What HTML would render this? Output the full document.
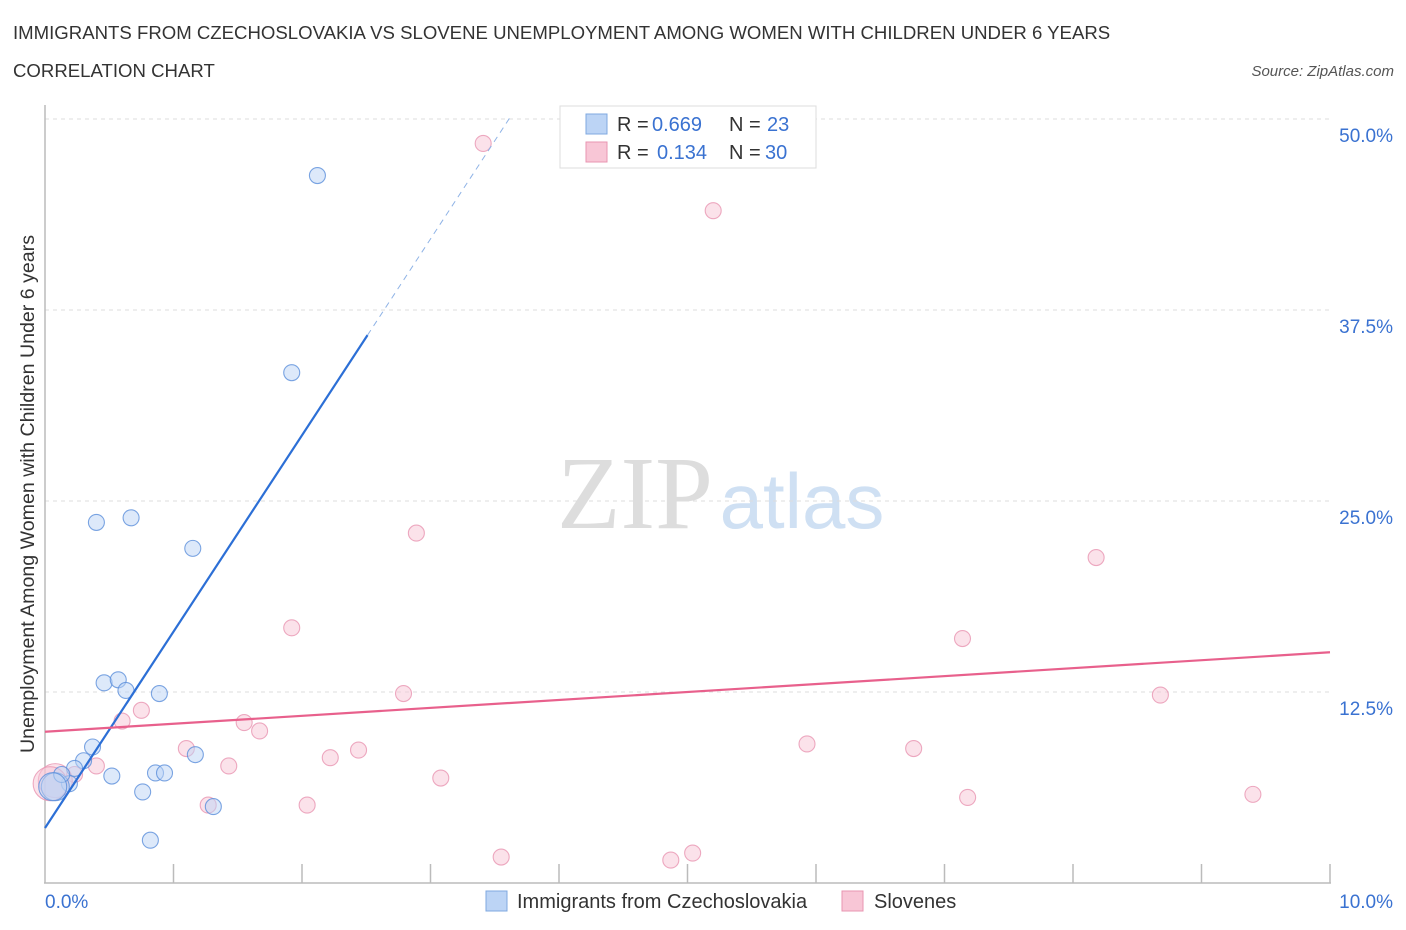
<!DOCTYPE html>
<html><head><meta charset="utf-8"><style>
body{margin:0;background:#fff;font-family:"Liberation Sans",sans-serif;}
svg{display:block}
</style></head><body>
<svg id="c" width="1406" height="930" xmlns="http://www.w3.org/2000/svg">
<text x="13" y="39" font-size="18.6" fill="#333">IMMIGRANTS FROM CZECHOSLOVAKIA VS SLOVENE UNEMPLOYMENT AMONG WOMEN WITH CHILDREN UNDER 6 YEARS</text>
<text x="13" y="77" font-size="18.6" fill="#333">CORRELATION CHART</text>
<text x="1394" y="76" font-size="15" fill="#555" font-style="italic" text-anchor="end">Source: ZipAtlas.com</text>
<text x="635" y="528" font-size="104" fill="#ddd" font-family="Liberation Serif" text-anchor="middle">ZIP</text>
<text x="802" y="528" font-size="78" fill="#cfe0f3" text-anchor="middle">atlas</text>
<g id="grid"></g>
<g id="axes"></g>
<g id="marks"></g>
<text transform="translate(34,494) rotate(-90)" font-size="19.6" fill="#333" text-anchor="middle">Unemployment Among Women with Children Under 6 years</text>
<text x="45" y="908" font-size="19" fill="#3a72d1">0.0%</text>
<text x="1393" y="908" font-size="19" fill="#3a72d1" text-anchor="end">10.0%</text>
<g>
<rect x="560" y="106" width="256" height="62" fill="#fff" stroke="#ddd"/>
<rect x="586" y="114" width="21" height="20" fill="#bcd4f5" stroke="#7fa8e0"/>
<rect x="586" y="142" width="21" height="20" fill="#f8c6d6" stroke="#e895b1"/>
<text x="617" y="131" font-size="20" fill="#333">R =</text>
<text x="652" y="131" font-size="20" fill="#3a72d1">0.669</text>
<text x="729" y="131" font-size="20" fill="#333">N =</text>
<text x="767" y="131" font-size="20" fill="#3a72d1">23</text>
<text x="617" y="159" font-size="20" fill="#333">R =</text>
<text x="657" y="159" font-size="20" fill="#3a72d1">0.134</text>
<text x="729" y="159" font-size="20" fill="#333">N =</text>
<text x="765" y="159" font-size="20" fill="#3a72d1">30</text>
</g>
<g>
<rect x="486" y="891" width="21" height="20" fill="#bcd4f5" stroke="#7fa8e0"/>
<text x="517" y="908" font-size="20" fill="#333">Immigrants from Czechoslovakia</text>
<rect x="842" y="891" width="21" height="20" fill="#f8c6d6" stroke="#e895b1"/>
<text x="874" y="908" font-size="20" fill="#333">Slovenes</text>
</g>
</svg>
<script>
const yTicks=[12.5,25,37.5,50];
const yTickLabels=["12.5%","25.0%","37.5%","50.0%"];
const czechX=[2.12,1.92,0.40,0.67,1.15,0.46,0.57,0.63,0.89,0.37,0.30,0.23,0.86,0.93,1.17,0.52,0.76,0.19,1.31,0.82,0.08,0.13,0.06];
const czechY=[46.3,33.4,23.6,23.9,21.9,13.1,13.3,12.6,12.4,8.9,8.0,7.5,7.2,7.2,8.4,7.0,5.96,6.5,5.0,2.8,6.3,7.1,6.3];
const sloveneX=[3.41,5.20,2.89,8.18,1.92,7.14,2.79,8.68,0.75,0.60,1.55,1.67,5.93,1.10,2.44,6.76,2.22,0.40,1.43,3.08,1.27,2.04,7.18,9.40,3.55,5.04,4.87,0.23,0.08,0.04];
const sloveneY=[48.4,44.0,22.9,21.3,16.7,16.0,12.4,12.3,11.3,10.6,10.5,9.95,9.1,8.8,8.7,8.8,8.2,7.66,7.66,6.87,5.1,5.1,5.6,5.8,1.7,1.96,1.5,7.1,6.7,6.5];
const czechTrend=[3.6,12.85];
const sloveneTrend=[9.9,0.52];
const NS="http://www.w3.org/2000/svg";
const X=v=>45+v*128.5, Y=v=>883-v*15.28;
function mk(t,a,p){const e=document.createElementNS(NS,t);for(const k in a)e.setAttribute(k,a[k]);p.appendChild(e);return e;}
const grid=document.getElementById('grid'),axes=document.getElementById('axes'),marks=document.getElementById('marks');
yTicks.forEach((t,i)=>{
 const l=mk('line',{x1:45,x2:1330,y1:Y(t),y2:Y(t),stroke:'#ddd','stroke-dasharray':'4,4'},grid);
 
 
 const tx=mk('text',{x:1393,y:Y(t)+23,'font-size':19,fill:'#3a72d1','text-anchor':'end'},grid);
 tx.textContent=yTickLabels[i];
 
 
});
const ya=mk('line',{x1:45,x2:45,y1:105,y2:883,stroke:'#bbb','stroke-width':1.5},axes);


const xa=mk('line',{x1:44,x2:1331,y1:883,y2:883,stroke:'#bbb','stroke-width':1.5},axes);


for(let i=1;i<=10;i++){const t=mk('line',{x1:X(i),x2:X(i),y1:864,y2:883,stroke:'#bbb','stroke-width':1.5},axes);
 
 }
function pts(xs,ys,fill,stroke,name){xs.forEach((x,i)=>{
 const big=(x<0.1);const r=big?(name==='slovene-point'?17:14):8;
 const c=mk('circle',{cx:X(x),cy:Y(ys[i]),r:r,fill:fill,'fill-opacity':big?0.5:0.5,stroke:stroke,'stroke-width':1.1,'stroke-opacity':0.8},marks);
 
 });}
pts(sloveneX,sloveneY,'#f8c6d6','#e895b1','slovene-point');
pts(czechX,czechY,'#bcd4f5','#5b8fdb','czech-point');
const ct=mk('line',{x1:X(0),y1:Y(czechTrend[0]),x2:X(2.51),y2:Y(czechTrend[0]+czechTrend[1]*2.51),stroke:'#2c6fd6','stroke-width':2.2},marks);


const cd=mk('line',{x1:X(2.51),y1:Y(czechTrend[0]+czechTrend[1]*2.51),x2:X(3.62),y2:Y(czechTrend[0]+czechTrend[1]*3.62),stroke:'#8fb3e6','stroke-width':1,'stroke-dasharray':'6,5'},marks);


const st=mk('line',{x1:X(0),y1:Y(sloveneTrend[0]),x2:X(10),y2:Y(sloveneTrend[0]+sloveneTrend[1]*10),stroke:'#e8608c','stroke-width':2.2},marks);


</script>
</body></html>
